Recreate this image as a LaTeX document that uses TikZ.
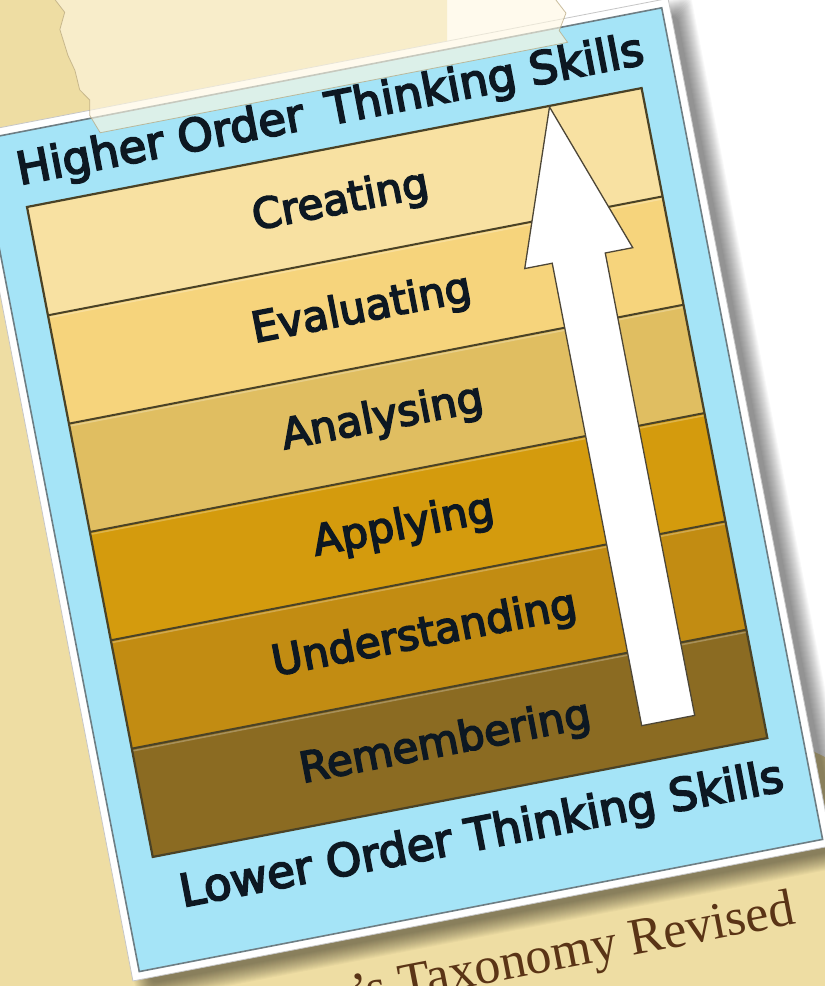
\documentclass[tikz,border=0pt]{standalone}
\usepackage{fontspec}
\setmainfont{DejaVu Sans}
\newfontface\cardfont{DejaVu Sans}[RawFeature={embolden=4}]
\newfontfamily\captfont{Liberation Serif}
\usetikzlibrary{calc}
\definecolor{bgtan}{HTML}{EEDDA3}
\definecolor{cardblue}{HTML}{A5E4F7}
\definecolor{cardedge}{HTML}{6E7E84}
\definecolor{band1}{HTML}{F8E1A2}
\definecolor{band2}{HTML}{F6D47C}
\definecolor{band3}{HTML}{E0BE61}
\definecolor{band4}{HTML}{D49B0D}
\definecolor{band5}{HTML}{C28C12}
\definecolor{band6}{HTML}{8B6B22}
\definecolor{bandline}{HTML}{4A4226}
\definecolor{labeltext}{HTML}{0D1822}
\definecolor{captbrown}{HTML}{5A3416}
\definecolor{tapecream}{HTML}{FFF8E2}
\definecolor{tapeedge}{HTML}{B5A47A}
\definecolor{arrowedge}{HTML}{4D4636}
\tikzset{
  bandsep/.style={draw=bandline, line width=2pt},
  bandlabel/.style={anchor=base, text=labeltext, font=\cardfont\fontsize{42}{50}\selectfont, inner sep=0pt},
  headlabel/.style={anchor=base, text=labeltext, font=\cardfont\fontsize{45}{54}\selectfont, inner sep=0pt},
  tapestyle/.style={fill=tapecream, fill opacity=0.62, draw=tapeedge, draw opacity=0.7, line width=0.8pt},
  arrowstyle/.style={fill=white, draw=arrowedge, line width=1.3pt, line join=miter},
  shadowlayer/.style={fill=black, opacity=0.028, rounded corners=6pt},
}
\begin{document}
\begin{tikzpicture}[x=1pt,y=1pt]
\useasboundingbox (0,0) rectangle (825,986);
\clip (0,0) rectangle (825,986);
% background
\fill[white] (0,0) rectangle (825,986);
\fill[bgtan] (0,986) -- (447,986) -- (447,926) -- (800,241) -- (825,229) -- (825,0) -- (0,0) -- cycle;
% rotated card
\begin{scope}[shift={(27,779)}, rotate=10.95, transform shape]
  % soft shadow
  \foreach \i in {0,...,17}{
    \pgfmathsetmacro\e{\i-6}
    \fill[shadowlayer] (-31-\e, 71+\e) rectangle (681+\e, -792-\e);
  }
  % caption below the card
  \node[anchor=base east, text=captbrown, font=\captfont\fontsize{52}{60}\selectfont, inner sep=0pt] (caption) at (620,-850) {’s Taxonomy Revised};
  % card body
  \fill[white] (-43,83) rectangle (669,-780);
  \draw[gray!45, line width=0.8pt] (-43,83) rectangle (669,-780);
  \fill[cardblue] (-35,75) rectangle (661,-772);
  \draw[cardedge, line width=1.6pt] (-35,75) rectangle (661,-772);
  % bands
  \foreach \c [count=\k from 0] in {band1,band2,band3,band4,band5,band6}{
    \fill[\c] (0,{-\k*662/6}) rectangle (626,{-(\k+1)*662/6});
  }
  \foreach \k in {1,...,5}{
    \draw[white, opacity=0.25, line width=1.5pt] (1,{-\k*662/6-2.4}) -- (625,{-\k*662/6-2.4});
    \draw[bandsep] (0,{-\k*662/6}) -- (626,{-\k*662/6});
  }
  \draw[bandline, line width=2.2pt] (0,0) rectangle (626,-662);
  % header and footer
  \node[headlabel] (higher) at (316,23) {Higher Order\hspace{0.2em} Thinking Skills};
  \node[headlabel] (lower) at (327,-717) {Lower Order Thinking Skills};
  % band labels
  \foreach \t [count=\k from 0] in {Creating,Evaluating,Analysing,Applying,Understanding,Remembering}{
    \node[bandlabel] (lab\k) at (309,{-\k*662/6-55.17-11}) {\t};
  }
  % arrow
  \draw[arrowstyle] (532,-1) -- (587,-155) -- (559,-155) -- (559,-626) -- (505,-626) -- (505,-155) -- (477,-155) -- cycle;
  % tape
  \path[tapestyle] (66,320) -- (70,260) -- (64,230) -- (67,198) -- (74,184) -- (66,168) -- (69,141) -- (73,125) -- (74,105) -- (82,93) -- (79,78) -- (86,59)
    -- (562,59) -- (556,72) -- (566,88) -- (558,104) -- (563,125) -- (555,150) -- (560,180) -- (552,220) -- (558,260) -- (553,320) -- cycle;
\end{scope}
\end{tikzpicture}
\end{document}
